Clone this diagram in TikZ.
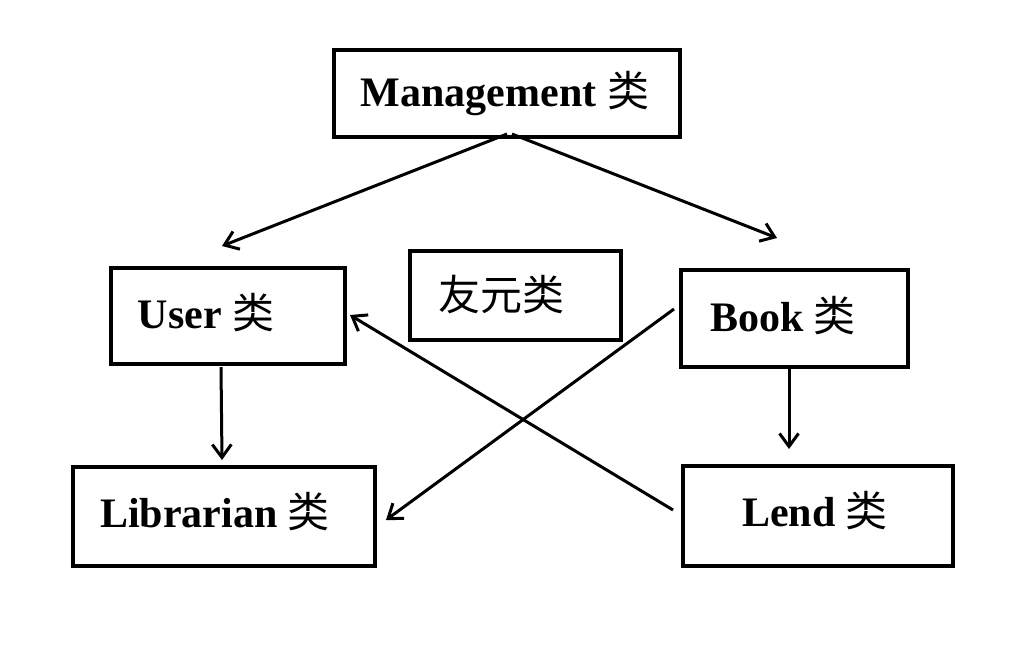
\documentclass[tikz,border=0pt]{standalone}
\usepackage{fontspec}
\setmainfont{Liberation Serif}
\newfontfamily\cjk{Noto Sans CJK SC}
\usetikzlibrary{arrows.meta}
\begin{document}
\begin{tikzpicture}[x=1pt,y=-1pt,
  box/.style={draw,line width=3.6pt,inner sep=0pt,anchor=north west},
  lbl/.style={font=\fontsize{42}{50}\selectfont\bfseries,inner sep=0pt},
  conn/.style={line width=3pt,-{Straight Barb[length=13pt,width=19pt,line width=3pt]}}]
\useasboundingbox (0,0) rectangle (1032,646);
\fill[white] (0,0) rectangle (1032,646);
% boxes
\node[box,minimum width=346pt,minimum height=87pt] (mgmt) at (332,48) {};
\node[box,minimum width=234pt,minimum height=96pt] (user) at (109,266) {};
\node[box,minimum width=211pt,minimum height=89pt] (friend) at (408,249) {};
\node[box,minimum width=227pt,minimum height=97pt] (book) at (679,268) {};
\node[box,minimum width=302pt,minimum height=99pt] (lib) at (71,465) {};
\node[box,minimum width=270pt,minimum height=100pt] (lend) at (681,464) {};
% labels
\node[lbl] (tmgmt) at (505,94) {Management {\cjk\mdseries 类}};
\node[lbl] (tuser) at (206,313) {User {\cjk\mdseries 类}};
\node[lbl,font=\fontsize{42}{50}\selectfont\cjk] (tfriend) at (501,295) {友元类};
\node[lbl] (tbook) at (783,316) {Book {\cjk\mdseries 类}};
\node[lbl] (tlib) at (215,512) {Librarian {\cjk\mdseries 类}};
\node[lbl] (tlend) at (815,511) {Lend {\cjk\mdseries 类}};
% connector end points
\coordinate (m1) at (507,134);
\coordinate (m2) at (512,134);
\coordinate (u1) at (222,246);
\coordinate (b1) at (777,238);
\coordinate (us) at (221,367);
\coordinate (lt) at (222,460);
\coordinate (bs) at (789,368);
\coordinate (ldt) at (789,449);
\coordinate (bw) at (674,309);
\coordinate (le) at (386,520);
\coordinate (ldw) at (673,510);
\coordinate (ue) at (350,315);
% connectors
\draw[conn] (m1) -- (u1);
\draw[conn] (m2) -- (b1);
\draw[conn] (us) -- (lt);
\draw[conn] (bs) -- (ldt);
\draw[conn] (bw) -- (le);
\draw[conn] (ldw) -- (ue);
\end{tikzpicture}
\end{document}
